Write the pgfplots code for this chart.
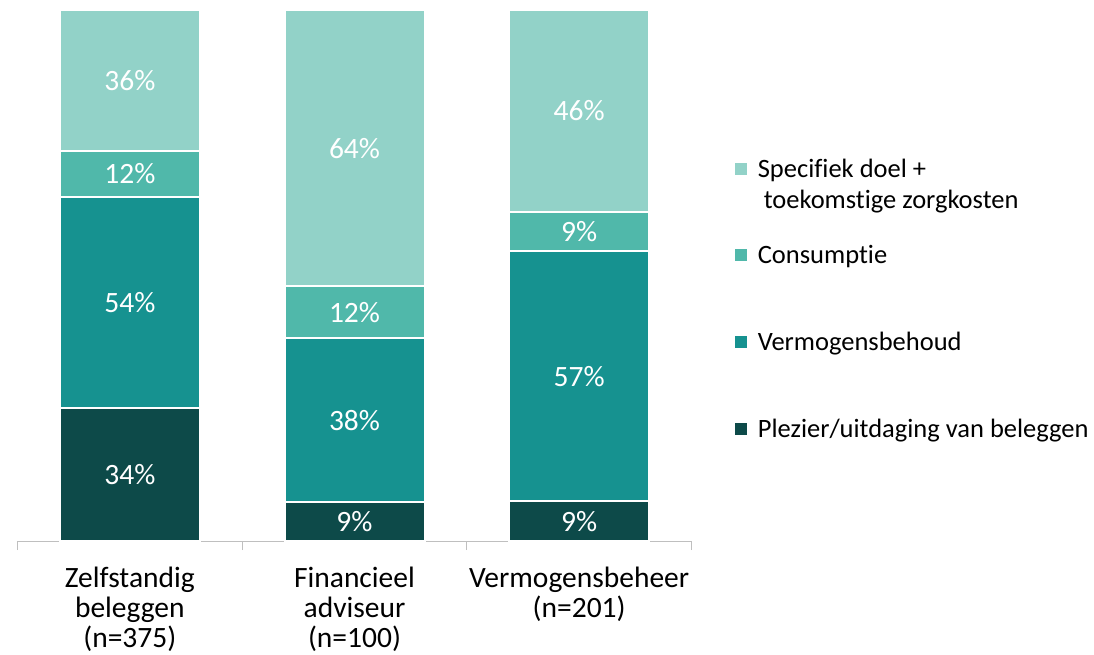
\documentclass[border=0pt]{standalone}
\usepackage{pgfplots}
\pgfplotsset{compat=1.18}
\usepackage{pgfplotstable}
\usepackage{fontspec}
\setmainfont{Carlito}[Ligatures={NoCommon}]
\definecolor{cSpec}{HTML}{92D2C8}
\definecolor{cCons}{HTML}{50B8AA}
\definecolor{cVb}{HTML}{169290}
\definecolor{cPlez}{HTML}{0D4A49}
\definecolor{lgray}{HTML}{BFBFBF}
% shares normalised to the bar total; lab = printed percentage
\pgfplotstableread{
x y lab
0 25.00 34
1 7.32 9
2 7.44 9
}\plez
\pgfplotstableread{
x y lab
0 39.71 54
1 30.89 38
2 47.11 57
}\vb
\pgfplotstableread{
x y lab
0 8.82 12
1 9.76 12
2 7.44 9
}\cons
\pgfplotstableread{
x y lab
0 26.47 36
1 52.03 64
2 38.02 46
}\spec
\begin{document}
\begin{tikzpicture}
\useasboundingbox (0,0) rectangle (1094pt,654pt);
\begin{axis}[
  at={(17.5pt,113pt)}, anchor=south west,
  scale only axis, width=674pt, height=531pt,
  ybar stacked, bar width=140pt,
  xmin=-0.5, xmax=2.5, ymin=0, ymax=100,
  axis x line*=bottom, axis y line=none,
  x axis line style={draw=lgray, line width=1pt, -},
  xtick={0,1,2},
  xticklabels={{Zelfstandig\\beleggen\\(n=375)},{Financieel\\adviseur\\(n=100)},{Vermogensbeheer\\(n=201)}},
  major tick length=0pt,
  minor xtick={-0.5,0.5,1.5,2.5}, minor tick length=9pt, tick align=outside,
  minor tick style={draw=lgray, line width=1pt},
  xticklabel style={align=center, font=\fontsize{29.5}{30}\selectfont, text=black, anchor=north, yshift=-22pt},
  ytick=\empty,
  clip=false,
  point meta=explicit symbolic,
  nodes near coords={\pgfplotspointmeta\%},
  every node near coord/.append style={font=\fontsize{29.5}{30}\selectfont, text=white, anchor=center},
  every axis plot/.append style={draw=white, line width=2pt},
  reverse legend,
  legend image code/.code={\fill[#1, draw=none] (0pt,-6pt) rectangle (12pt,6pt);},
  legend style={at={(1.0595,0.728)}, anchor=north west, draw=none, fill=none,
    font=\fontsize{26.5}{30}\selectfont, legend cell align=left, row sep=63pt,
    /tikz/every odd column/.append style={column sep=9pt}},
]
\addplot[fill=cPlez] table[x=x, y=y, meta=lab] {\plez};
\addplot[fill=cVb] table[x=x, y=y, meta=lab] {\vb};
\addplot[fill=cCons] table[x=x, y=y, meta=lab] {\cons};
\addplot[fill=cSpec] table[x=x, y=y, meta=lab] {\spec};
\legend{Plezier/uitdaging van beleggen,Vermogensbehoud,Consumptie,{\makebox[0pt][l]{\raisebox{-31pt}[0pt][0pt]{\hspace{6pt}toekomstige zorgkosten}}Specifiek doel +}}
\end{axis}
\end{tikzpicture}
\end{document}
